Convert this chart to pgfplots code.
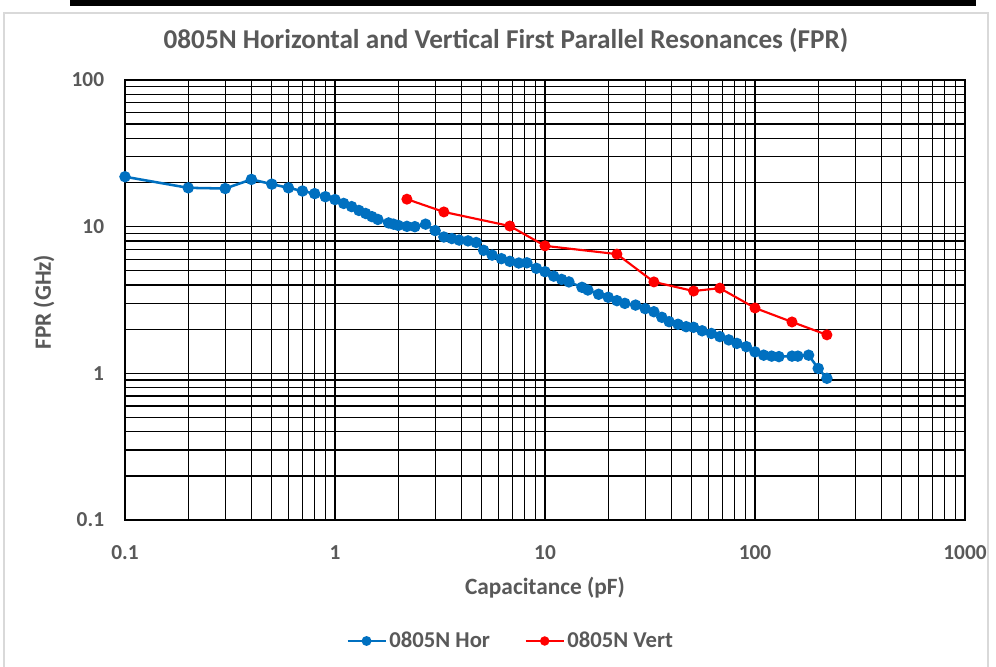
\documentclass[border=0pt]{standalone}
\usepackage{fontspec}
\setmainfont{Carlito}
\usepackage{pgfplots}
\pgfplotsset{compat=1.18}
\definecolor{txt}{HTML}{595959}
\definecolor{hor}{HTML}{0070C0}
\definecolor{vert}{HTML}{FF0000}
\begin{document}
\begin{tikzpicture}[x=0.75pt,y=0.75pt]
\useasboundingbox (0,0) rectangle (996,667);
\fill[white] (0,0) rectangle (996,667);
\draw[black!15, line width=1] (4,-2) -- (4,654) -- (988,654) -- (988,-2);
\fill[black] (70,661) rectangle (976,669);
\begin{axis}[
  at={(93.75pt,110.25pt)}, anchor=south west,
  scale only axis, width=630pt, height=330pt,
  xmode=log, ymode=log,
  xmin=0.1, xmax=1000, ymin=0.1, ymax=100,
  xtick={0.1,1,10,100,1000}, xticklabels={0.1,1,10,100,1000},
  ytick={0.1,1,10,100}, yticklabels={0.1,1,10,100},
  grid=both,
  major grid style={black, line width=1pt},
  minor grid style={black, line width=1pt},
  axis line style={black, line width=1pt},
  major tick length=0pt, minor tick length=0pt,
  tick label style={font=\fontsize{16}{19}\selectfont\bfseries, text=txt, inner sep=0pt},
  xticklabel style={anchor=center, yshift=-24.75pt},
  yticklabel style={anchor=east, xshift=-15.5pt},
  /pgf/number format/assume math mode=true,
  xlabel={Capacitance (pF)}, ylabel={FPR (GHz)},
  label style={font=\fontsize{17.5}{21}\selectfont\bfseries, text=txt},
  xlabel style={at={(axis description cs:0.5,-0.1545)}, anchor=center},
  ylabel style={at={(axis description cs:-0.0964,0.495)}, anchor=center, rotate=0},
  legend style={at={(0.4595,-0.275)}, anchor=center, draw=none, fill=none,
    font=\fontsize{17}{20}\selectfont\bfseries, text=txt,
    /tikz/every even column/.append style={column sep=24pt}},
  legend columns=2,
  legend image code/.code={
    \draw[#1, mark=none] (0cm,0cm) -- (1.0cm,0cm);
    \draw[#1, only marks, mark size=2.7pt] plot coordinates {(0.5cm,0cm)};
  },
]
\addplot[hor, line width=1.9pt, mark=*, mark size=3.3pt, mark options={solid}] coordinates {
(0.1,21.9) (0.2,18.4) (0.3,18.2) (0.4,21.0) (0.5,19.5) (0.6,18.4) (0.7,17.5)
(0.8,16.8) (0.9,16.0) (1.0,15.3) (1.1,14.4) (1.2,13.7) (1.3,12.9) (1.4,12.3)
(1.5,11.7) (1.6,11.2) (1.8,10.6) (1.9,10.4) (2.0,10.2) (2.2,10.05) (2.4,10.0)
(2.7,10.4) (3.0,9.4) (3.3,8.5) (3.6,8.3) (3.9,8.1) (4.3,8.0) (4.7,7.8)
(5.1,6.9) (5.6,6.4) (6.2,6.05) (6.8,5.8) (7.5,5.65) (8.2,5.67) (9.1,5.2)
(10,4.93) (11,4.6) (12,4.37) (13,4.2) (15,3.86) (16,3.7) (18,3.46) (20,3.3)
(22,3.13) (24,3.0) (27,2.92) (30,2.76) (33,2.63) (36,2.41) (39,2.25) (43,2.16)
(47,2.08) (51,2.06) (56,1.95) (62,1.87) (68,1.78) (75,1.69) (82,1.60) (91,1.52)
(100,1.40) (110,1.33) (120,1.31) (130,1.30) (150,1.31) (160,1.31) (180,1.33)
(200,1.08) (220,0.925)
};
\addlegendentry{0805N Hor}
\addplot[vert, line width=1.6pt, mark=*, mark size=3.3pt, mark options={solid}] coordinates {
(2.2,15.4) (3.3,12.6) (6.8,10.1) (10,7.4) (22,6.5) (33,4.2) (51,3.64)
(68,3.81) (100,2.79) (150,2.24) (220,1.83)
};
\addlegendentry{0805N Vert}
\end{axis}
\node[font=\fontsize{20.4}{24}\selectfont\bfseries, text=txt] at (506,627) {0805N Horizontal and Vertical First Parallel Resonances (FPR)};
\end{tikzpicture}
\end{document}
